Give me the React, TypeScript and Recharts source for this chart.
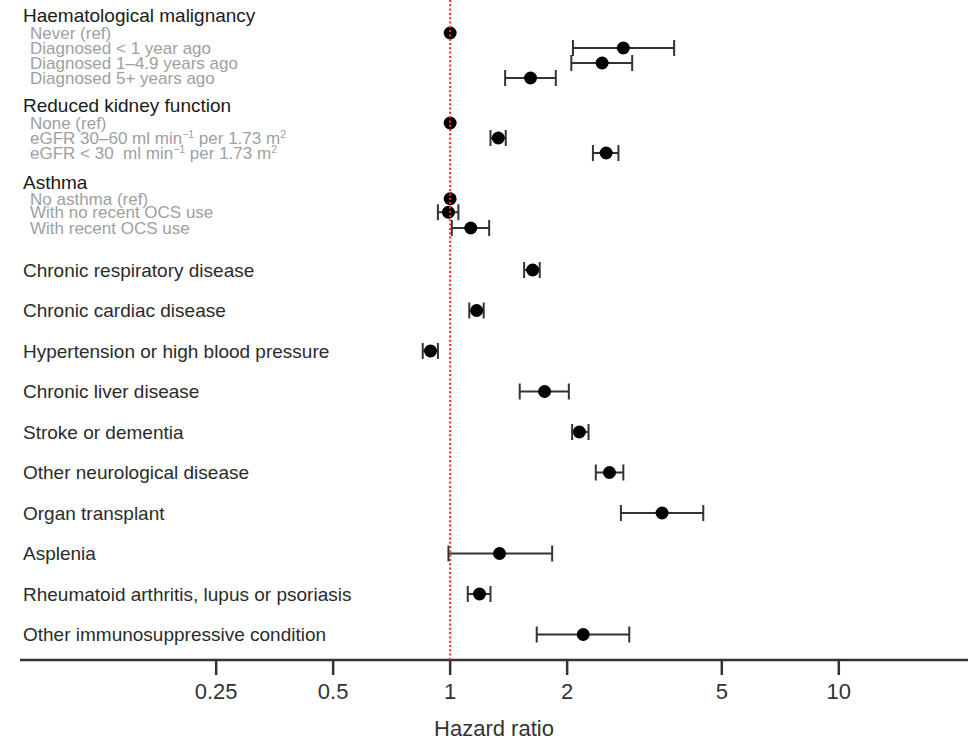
import React from 'react';
import { ScatterChart, Scatter, XAxis, YAxis, ErrorBar } from 'recharts';

// rows top to bottom: h = group header, s = sub-row, m = main row
const ROW_LABELS = [
  'Haematological malignancy',
  'Never (ref)',
  'Diagnosed < 1 year ago',
  'Diagnosed 1–4.9 years ago',
  'Diagnosed 5+ years ago',
  'Reduced kidney function',
  'None (ref)',
  'eGFR 30–60 ml min^{−1} per 1.73 m^{2}',
  'eGFR < 30  ml min^{−1} per 1.73 m^{2}',
  'Asthma',
  'No asthma (ref)',
  'With no recent OCS use',
  'With recent OCS use',
  'Chronic respiratory disease',
  'Chronic cardiac disease',
  'Hypertension or high blood pressure',
  'Chronic liver disease',
  'Stroke or dementia',
  'Other neurological disease',
  'Organ transplant',
  'Asplenia',
  'Rheumatoid arthritis, lupus or psoriasis',
  'Other immunosuppressive condition',
];
const ROW_KINDS = ['h', 's', 's', 's', 's', 'h', 's', 's', 's', 'h', 's', 's', 's',
  'm', 'm', 'm', 'm', 'm', 'm', 'm', 'm', 'm', 'm'];
// row slot (in line units, top = 0)
const ROW_POS = [1.05, 2.2, 3.2, 4.2, 5.2, 7.05, 8.2, 9.2, 10.2, 12.15, 13.25, 14.15, 15.2,
  18.0, 20.7, 23.4, 26.1, 28.8, 31.5, 34.2, 36.9, 39.6, 42.3];

const ROW_HR = [null, 1, 2.79, 2.46, 1.61, null, 1, 1.33, 2.52, null, 1, 0.99, 1.13,
  1.63, 1.17, 0.89, 1.75, 2.15, 2.57, 3.51, 1.34, 1.19, 2.2];
const ROW_LO = [null, null, 2.07, 2.05, 1.385, null, null, 1.27, 2.33, null, null, 0.93, 1.01,
  1.55, 1.12, 0.85, 1.51, 2.06, 2.37, 2.75, 0.99, 1.11, 1.67];
const ROW_HI = [null, null, 3.77, 2.94, 1.87, null, null, 1.39, 2.71, null, null, 1.05, 1.26,
  1.7, 1.22, 0.93, 2.02, 2.27, 2.79, 4.48, 1.83, 1.27, 2.89];

const X_TICKS = [0.25, 0.5, 1, 2, 5, 10];
const X_DOMAIN = [0.0782, 21.5];
const Y_DOMAIN = [0, 44];

const FONT = '"Liberation Sans", Arial, Helvetica, sans-serif';

const estimates = ROW_HR.map((hr, i) => ({ hr, y: ROW_POS[i], lo: ROW_LO[i], hi: ROW_HI[i] }))
  .filter(d => d.hr != null && d.lo != null)
  .map(d => ({ ...d, err: [d.hr - d.lo, d.hi - d.hr] }));

const refs = ROW_HR.map((hr, i) => ({ hr, y: ROW_POS[i], lo: ROW_LO[i] }))
  .filter(d => d.hr != null && d.lo == null);

// labels sit at the left edge of the axis range
const labelRows = ROW_LABELS.map((label, i) => ({ hr: X_DOMAIN[0], y: ROW_POS[i], label, kind: ROW_KINDS[i] }));

// red dotted line at HR = 1
const nullLine = [{ hr: 1, y: Y_DOMAIN[0] }, { hr: 1, y: Y_DOMAIN[1] }];

const renderLabel = (text: string, fontSize: number) => {
  const parts = text.split(/\^\{([^}]*)\}/);
  const out: React.ReactNode[] = [];
  parts.forEach((p, i) => {
    if (i % 2 === 1) {
      out.push(<tspan key={i} dy={-6} fontSize={fontSize * 0.62}>{p}</tspan>);
    } else if (p) {
      out.push(i > 0 ? <tspan key={i} dy={6}>{p}</tspan> : <tspan key={i}>{p}</tspan>);
    }
  });
  return out;
};

const RowLabel = (props: any) => {
  const { cx, cy, payload } = props;
  const kind = payload.kind;
  const style = kind === 'h'
    ? { size: 19, color: '#1a1a1a', dx: 3 }
    : kind === 's'
      ? { size: 17, color: '#a0a0a0', dx: 10 }
      : { size: 19, color: '#2b2b2b', dx: 3 };
  return (
    <text x={cx + style.dx} y={cy + style.size * 0.35} textAnchor="start" fontSize={style.size}
      fill={style.color} fontFamily={FONT} style={{ whiteSpace: 'pre' }}>
      {renderLabel(payload.label, style.size)}
    </text>
  );
};

const Dot = (props: any) => <circle cx={props.cx} cy={props.cy} r={6.5} fill="#000" />;
const NoDot = () => <g />;

export default function App() {
  return (
    <div style={{ fontFamily: FONT, background: '#fff' }}>
      <style>{'body{margin:0}'}</style>
      <ScatterChart width={968} height={741} margin={{ top: 0, right: 0, bottom: 0, left: 20 }}>
        <XAxis
          type="number"
          dataKey="hr"
          scale="log"
          domain={X_DOMAIN}
          allowDataOverflow
          ticks={X_TICKS}
          interval={0}
          height={81}
          tickSize={15}
          tickMargin={8}
          axisLine={{ stroke: '#333', strokeWidth: 2.5 }}
          tickLine={{ stroke: '#333', strokeWidth: 2.5 }}
          tick={{ fontSize: 22, fill: '#333', fontFamily: FONT }}
          tickFormatter={(v: number) => String(v)}
          label={{ value: 'Hazard ratio', position: 'insideBottom', offset: 5, fontSize: 22, fill: '#333', fontFamily: FONT }}
        />
        <YAxis type="number" dataKey="y" domain={Y_DOMAIN} reversed allowDataOverflow hide width={0} />
        <Scatter data={labelRows} isAnimationActive={false} shape={<RowLabel />} />
        <Scatter data={refs} isAnimationActive={false} shape={<Dot />} />
        <Scatter data={estimates} isAnimationActive={false} shape={<Dot />}>
          <ErrorBar dataKey="err" direction="x" width={8} stroke="#333" strokeWidth={2} />
        </Scatter>
        <Scatter
          data={nullLine}
          isAnimationActive={false}
          shape={<NoDot />}
          line={{ stroke: '#ff2a2a', strokeWidth: 2.2, strokeDasharray: '2 2.3' }}
          lineType="joint"
        />
      </ScatterChart>
    </div>
  );
}
